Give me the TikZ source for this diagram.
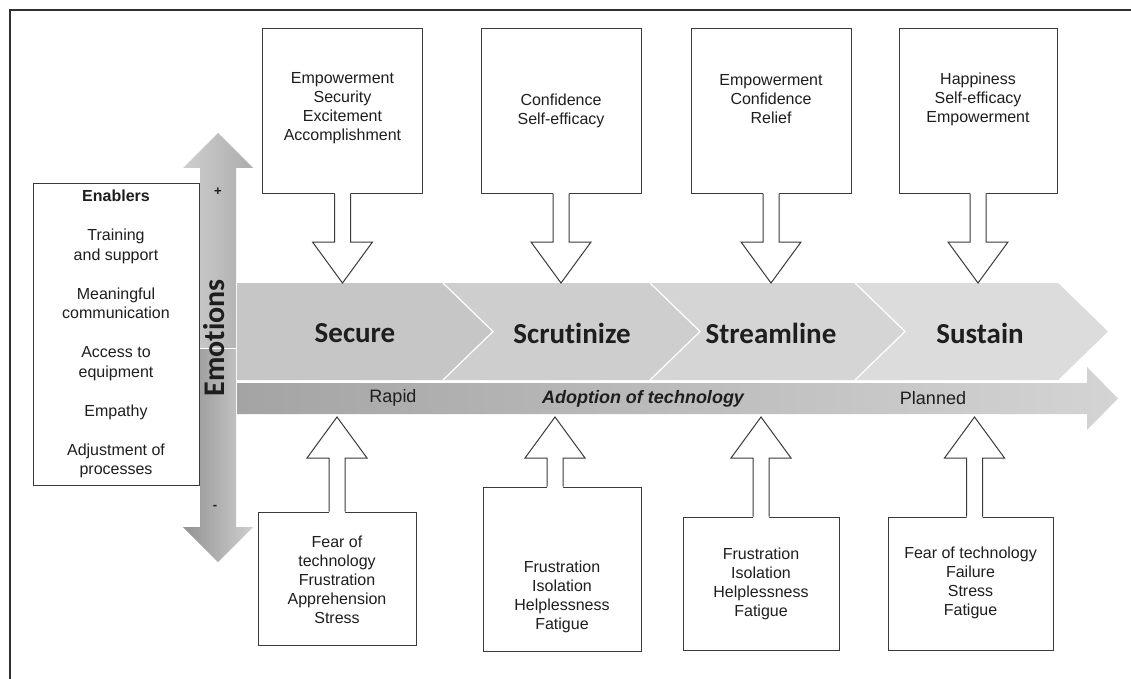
\documentclass[tikz,border=0pt]{standalone}
\usepackage{fontspec}
\setmainfont{Liberation Sans}
\newfontfamily\calib[Ligatures=NoCommon]{Carlito}
\usetikzlibrary{calc}
\definecolor{boxline}{HTML}{3A3A3A}
\definecolor{frameline}{HTML}{303030}
\definecolor{chA}{HTML}{C6C6C6}
\definecolor{chB}{HTML}{CECECE}
\definecolor{chC}{HTML}{D5D5D5}
\definecolor{chD}{HTML}{DCDCDC}
\definecolor{txt}{HTML}{1E1E1E}
\definecolor{barL}{HTML}{A4A4A4}
\definecolor{barR}{HTML}{D4D4D4}
\definecolor{emoL}{HTML}{CFCFCF}
\definecolor{emoR}{HTML}{ACACAC}
\newcommand{\hollowarrow}[2]{%
  \fill[white] let \p1=(#1), \p2=(#2),
      \n1={\y2+41pt*sign(\y1-\y2)}, \n2={\y1+1.5pt*sign(\y1-\y2)} in
    (\x1-8pt,\n2) -- (\x1-8pt,\n1) -- (\x1-30pt,\n1) -- (\x1,\y2)
    -- (\x1+30pt,\n1) -- (\x1+8pt,\n1) -- (\x1+8pt,\n2) -- cycle;
  \draw[hollowline] let \p1=(#1), \p2=(#2),
      \n1={\y2+41pt*sign(\y1-\y2)} in
    (\x1-8pt,\y1) -- (\x1-8pt,\n1) -- (\x1-30pt,\n1) -- (\x1,\y2)
    -- (\x1+30pt,\n1) -- (\x1+8pt,\n1) -- (\x1+8pt,\y1);}
\begin{document}
\begin{tikzpicture}[x=1pt,y=-1pt,
  ebox/.style={draw=boxline, line width=1pt, fill=white, inner sep=0pt},
  hollowline/.style={draw=boxline, line width=1pt, line join=miter},
  etext/.style={align=center, inner sep=0pt, text=txt,
    font=\fontsize{16}{19}\selectfont},
  chevlabel/.style={inner sep=0pt, text=txt,
    font=\calib\bfseries\fontsize{29}{32}\selectfont},
  barlabel/.style={inner sep=0pt, text=txt,
    font=\fontsize{18}{20}\selectfont},
  sep/.style={draw=white, line width=1.2pt}]
\useasboundingbox (0,0) rectangle (1131,679);
\fill[white] (0,0) rectangle (1131,679);
% outer frame (only left and top edges visible)
\draw[frameline, line width=1.5pt] (10,679) -- (10,10) -- (1131,10);

% ---------- Emotions vertical arrow ----------
\shade[left color=emoL, right color=emoR]
  (200,348) -- (200,168) -- (183,168) -- (218,133) -- (253,168)
  -- (236,168) -- (236,348) -- cycle;
\shade[left color=emoR!85!black, right color=emoL]
  (200,348) -- (200,527) -- (183,527) -- (218,562) -- (253,527)
  -- (236,527) -- (236,348) -- cycle;
\draw[white, line width=0.8pt] (200,348) -- (236,348);
\node[inner sep=0pt, text=txt, font=\bfseries\fontsize{13}{14}\selectfont]
  (plus) at (218,192) {+};
\node[inner sep=0pt, text=txt, font=\bfseries\fontsize{13}{14}\selectfont]
  (minus) at (215,507) {-};
\node[inner sep=0pt, text=txt, rotate=90,
  font=\calib\bfseries\fontsize{30}{32}\selectfont] (emo) at (214,338) {Emotions};

% ---------- Chevrons ----------
\fill[chA] (237,283) -- (443,283) -- (493,331.5) -- (443,380) -- (237,380) -- cycle;
\fill[chB] (443,283) -- (650,283) -- (700,331.5) -- (650,380) -- (443,380) -- (493,331.5) -- cycle;
\fill[chC] (650,283) -- (855,283) -- (905,331.5) -- (855,380) -- (650,380) -- (700,331.5) -- cycle;
\fill[chD] (855,283) -- (1058,283) -- (1108,331.5) -- (1058,380) -- (855,380) -- (905,331.5) -- cycle;
\draw[sep] (443,283) -- (493,331.5) -- (443,380);
\draw[sep] (650,283) -- (700,331.5) -- (650,380);
\draw[sep] (855,283) -- (905,331.5) -- (855,380);
\node[chevlabel] (secure) at (355,333) {Secure};
\node[chevlabel] (scrut) at (572,333) {Scrutinize};
\node[chevlabel] (stream) at (771,333) {Streamline};
\node[chevlabel] (sustain) at (980,333) {Sustain};
\coordinate (bandtop) at (0,283);

% ---------- Adoption arrow ----------
\shade[left color=barL, right color=barR]
  (237,383) -- (1087,383) -- (1087,367) -- (1118,398.5) -- (1087,430)
  -- (1087,414) -- (237,414) -- cycle;
\node[barlabel] (rapid) at (393,398) {Rapid};
\node[barlabel, font=\bfseries\itshape\fontsize{18}{20}\selectfont]
  (adopt) at (643,399) {Adoption of technology};
\node[barlabel] (planned) at (933,398) {Planned};
\coordinate (barbot) at (0,417);

% ---------- Enablers ----------
\node[ebox, minimum width=166pt, minimum height=302pt] (enab) at (116,334) {};
\node[etext, font=\fontsize{16}{19.5}\selectfont] (enabtext) at (116,334)
  {\textbf{Enablers}\\[19.5pt] Training\\ and support\\[19.5pt]
   Meaningful\\ communication\\[19.5pt] Access to\\ equipment\\[19.5pt]
   Empathy\\[19.5pt] Adjustment of\\ processes};

% ---------- Top (positive) boxes ----------
\node[ebox, minimum width=160pt, minimum height=164pt] (t1) at (342.5,111) {};
\node[ebox, minimum width=160pt, minimum height=164pt] (t2) at (561,111) {};
\node[ebox, minimum width=160pt, minimum height=164pt] (t3) at (771,111) {};
\node[ebox, minimum width=158pt, minimum height=164pt] (t4) at (978,111) {};
\node[etext] (t1text) at (342.5,108.5) {Empowerment\\ Security\\ Excitement\\ Accomplishment};
\node[etext] (t2text) at (561,110.5) {Confidence\\ Self-efficacy};
\node[etext] (t3text) at (771,99) {Empowerment\\ Confidence\\ Relief};
\node[etext] (t4text) at (978,99) {Happiness\\ Self-efficacy\\ Empowerment};
\hollowarrow{t1.south}{t1.south |- bandtop}
\hollowarrow{t2.south}{t2.south |- bandtop}
\hollowarrow{t3.south}{t3.south |- bandtop}
\hollowarrow{t4.south}{t4.south |- bandtop}

% ---------- Bottom (negative) boxes ----------
\node[ebox, minimum width=158pt, minimum height=133pt] (b1) at (337,578.5) {};
\node[ebox, minimum width=158pt, minimum height=164pt] (b2) at (562,569) {};
\node[ebox, minimum width=156pt, minimum height=133pt] (b3) at (761,583.5) {};
\node[ebox, minimum width=165pt, minimum height=133pt] (b4) at (970.5,583.5) {};
\node[etext] (b1text) at (337,580) {Fear of\\ technology\\ Frustration\\ Apprehension\\ Stress};
\node[etext] (b2text) at (562,596.5) {Frustration\\ Isolation\\ Helplessness\\ Fatigue};
\node[etext] (b3text) at (761,584) {Frustration\\ Isolation\\ Helplessness\\ Fatigue};
\node[etext] (b4text) at (970.5,583) {Fear of technology\\ Failure\\ Stress\\ Fatigue};
\coordinate (b2a) at ($(b2.north)+(-7,0)$);
\coordinate (b4a) at ($(b4.north)+(4,0)$);
\hollowarrow{b1.north}{b1.north |- barbot}
\hollowarrow{b2a}{b2a |- barbot}
\hollowarrow{b3.north}{b3.north |- barbot}
\hollowarrow{b4a}{b4a |- barbot}
\end{tikzpicture}
\end{document}
